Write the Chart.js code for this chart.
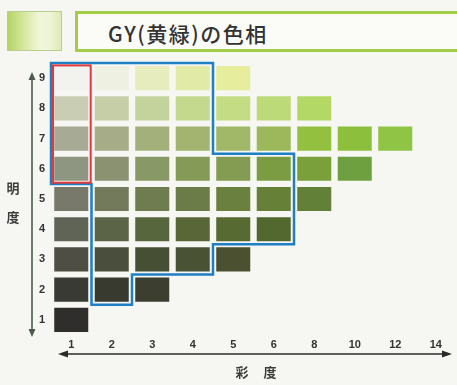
<!DOCTYPE html>
<html>
<head>
<meta charset="utf-8">
<script src="https://cdn.jsdelivr.net/npm/chart.js@4.4.1/dist/chart.umd.min.js"></script>
<style>
  html, body { margin: 0; padding: 0; background: #f6f7f2; }
  #wrap { position: relative; width: 457px; height: 385px; overflow: hidden; }
  #chip {
    position: absolute; left: 7px; top: 11px; width: 53px; height: 38px;
    border: 1px solid #b9cd8c;
    background: linear-gradient(90deg, #b3d468 0%, #d6e89c 30%, #f1f6dc 60%, #eef4d6 80%, #dfeab4 100%);
  }
  #title {
    position: absolute; left: 75px; top: 11px; width: 400px; height: 35px;
    border: 3px solid #a3cc47; background: #fbfcf8;
  }
  #title span {
    position: absolute; left: 30px; top: 4px;
    font-family: "Noto Sans CJK JP", sans-serif; font-size: 21px; font-weight: 500;
    color: #333; letter-spacing: 1.5px;
  }
  canvas { position: absolute; left: 0; top: 0; }
</style>
</head>
<body>
<div id="wrap">
  <canvas id="chart" width="457" height="385"></canvas>
  <div id="chip"></div>
  <div id="title"><span>GY(黄緑)の色相</span></div>
</div>
<script>
// 彩度 (chroma) categories and 明度 (value) levels
const chromaLabels = ['1', '2', '3', '4', '5', '6', '8', '10', '12', '14']
const valueLevels = [9, 8, 7, 6, 5, 4, 3, 2, 1]
// highest chroma chip present for each value level (same order as valueLevels)
const maxChroma = ['5', '8', '12', '10', '8', '6', '5', '3', '1']

// chip colours, one row per value level
const chipColors = [
  ['#f2f3ee', '#eef0e2', '#e6ecbe', '#e2eaa8', '#e6ee9e'],
  ['#c9cdb4', '#c6cea8', '#c4d39c', '#c4d88e', '#c4dc84', '#bcda78', '#b4d866'],
  ['#a7aa94', '#a6ab88', '#a4b07c', '#a2b470', '#a0b868', '#9cb85a', '#94c040', '#8cc03c', '#90c444'],
  ['#8e9580', '#8a9272', '#889866', '#869a58', '#849c52', '#7c9c44', '#7aa03c', '#6ea040'],
  ['#78796a', '#737a5c', '#6f7c50', '#6c7c48', '#6a803e', '#668038', '#628038'],
  ['#606456', '#5c6448', '#58663e', '#586638', '#566a32', '#52682e'],
  ['#4e4e44', '#4a4e3c', '#464e34', '#4a5234', '#4a5030'],
  ['#3a3a34', '#383a30', '#3c3e30'],
  ['#302e2c']
]

// blue outlined group: chroma range per value level
const blueValues = [9, 8, 7, 6, 5, 4, 3, 2]
const blueFrom = ['1', '1', '1', '1', '2', '2', '2', '2']
const blueTo = ['4', '4', '4', '6', '6', '6', '4', '2']
// red outlined group
const redChroma = '1'
const redValues = [9, 8, 7, 6]

const half = 0.4

const datasets = valueLevels.map((v, i) => {
  const n = chromaLabels.indexOf(maxChroma[i]) + 1
  const cells = chromaLabels.slice(0, n)
  return {
    label: 'V' + v,
    data: cells.map(c => ({ x: c, y: [v - half, v + half] })),
    backgroundColor: chipColors[i],
    borderWidth: 0,
    borderSkipped: false,
    grouped: false,
    categoryPercentage: 1,
    barPercentage: 0.84
  }
})

function idx(c) { return chromaLabels.indexOf(c) }

const decor = {
  id: 'decor',
  afterDatasetsDraw(chart) {
    const { ctx, scales: { x, y } } = chart
    // blue group outline
    const pts = []
    blueValues.forEach((v, i) => {
      const r = x.getPixelForValue(idx(blueTo[i]) + 0.5)
      pts.push([r, y.getPixelForValue(v + 0.5)], [r, y.getPixelForValue(v - 0.5)])
    })
    for (let i = blueValues.length - 1; i >= 0; i--) {
      const v = blueValues[i]
      const l = x.getPixelForValue(idx(blueFrom[i]) - 0.5)
      pts.push([l, y.getPixelForValue(v - 0.5)], [l, y.getPixelForValue(v + 0.5)])
    }
    ctx.save()
    ctx.strokeStyle = '#1f7fc4'
    ctx.lineWidth = 2.5
    ctx.beginPath()
    pts.forEach((p, k) => k ? ctx.lineTo(p[0], p[1]) : ctx.moveTo(p[0], p[1]))
    ctx.closePath()
    ctx.stroke()

    // red outline
    const ri = idx(redChroma)
    const rx0 = x.getPixelForValue(ri - 0.45)
    const rx1 = x.getPixelForValue(ri + 0.48)
    const ry0 = y.getPixelForValue(Math.max(...redValues) + 0.42)
    const ry1 = y.getPixelForValue(Math.min(...redValues) - 0.46)
    ctx.strokeStyle = '#e2383a'
    ctx.lineWidth = 2
    ctx.strokeRect(rx0, ry0, rx1 - rx0, ry1 - ry0)
    ctx.restore()
  },
  afterDraw(chart) {
    const { ctx, chartArea: a } = chart
    ctx.save()
    // value axis arrow (vertical, both ends)
    const ax = 32
    const t = a.top + 9, b = a.bottom + 2
    ctx.strokeStyle = '#4b5a4a'
    ctx.fillStyle = '#4b5a4a'
    ctx.lineWidth = 1.6
    ctx.beginPath(); ctx.moveTo(ax, t + 6); ctx.lineTo(ax, b - 6); ctx.stroke()
    ctx.beginPath(); ctx.moveTo(ax, t); ctx.lineTo(ax - 3.5, t + 8); ctx.lineTo(ax + 3.5, t + 8); ctx.fill()
    ctx.beginPath(); ctx.moveTo(ax, b); ctx.lineTo(ax - 3.5, b - 8); ctx.lineTo(ax + 3.5, b - 8); ctx.fill()

    // chroma axis arrow (horizontal, both ends)
    const ay = 354
    const l = 58, r = 452
    ctx.strokeStyle = '#2a2a2a'
    ctx.fillStyle = '#2a2a2a'
    ctx.beginPath(); ctx.moveTo(l + 6, ay); ctx.lineTo(r - 6, ay); ctx.stroke()
    ctx.beginPath(); ctx.moveTo(l, ay); ctx.lineTo(l + 10, ay - 3.5); ctx.lineTo(l + 10, ay + 3.5); ctx.fill()
    ctx.beginPath(); ctx.moveTo(r, ay); ctx.lineTo(r - 10, ay - 3.5); ctx.lineTo(r - 10, ay + 3.5); ctx.fill()

    // axis titles
    ctx.fillStyle = '#3c3c3c'
    ctx.font = 'bold 13px "Noto Sans CJK JP"'
    ctx.textAlign = 'center'
    ctx.textBaseline = 'middle'
    ctx.fillText('明', 13, 188)
    ctx.fillText('度', 13, 217)
    ctx.fillText('彩', 242, 372)
    ctx.fillText('度', 270, 372)
    ctx.restore()
  }
}

new Chart(document.getElementById('chart'), {
  type: 'bar',
  data: { labels: chromaLabels, datasets },
  options: {
    responsive: false,
    animation: false,
    layout: { padding: { top: 63, right: 1, left: 0, bottom: 0 } },
    plugins: { legend: { display: false }, tooltip: { enabled: false } },
    scales: {
      x: {
        type: 'category',
        grid: { display: false, drawTicks: false },
        border: { display: false },
        ticks: {
          autoSkip: false, maxRotation: 0, padding: 3,
          color: '#333', font: { family: 'Liberation Sans', size: 11, weight: 'bold' }
        },
        afterFit: s => { s.height = 50 }
      },
      y: {
        type: 'linear',
        min: 0.5,
        max: 9.5,
        grid: { display: false, drawTicks: false },
        border: { display: false },
        afterBuildTicks: s => { s.ticks = valueLevels.map(v => ({ value: v })) },
        ticks: {
          padding: 6,
          color: '#333', font: { family: 'Liberation Sans', size: 11, weight: 'bold' }
        },
        afterFit: s => { s.width = 51 }
      }
    }
  },
  plugins: [decor]
})
</script>
</body>
</html>
